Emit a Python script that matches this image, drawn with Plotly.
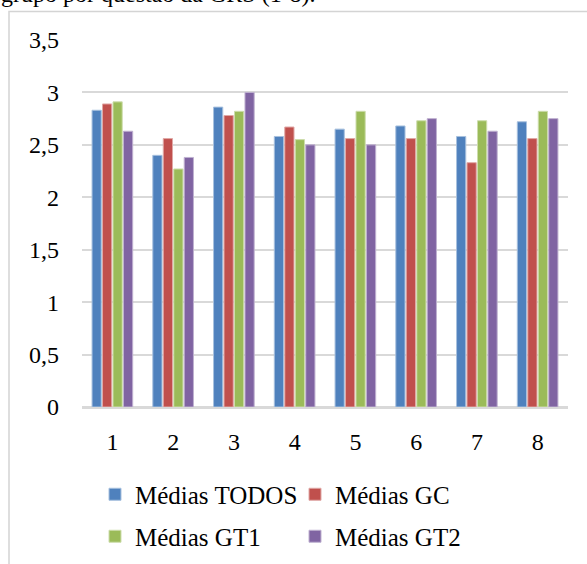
import plotly.graph_objects as go

categories = ["1", "2", "3", "4", "5", "6", "7", "8"]
medias_todos = [2.83, 2.40, 2.86, 2.58, 2.65, 2.68, 2.58, 2.72]
medias_gc = [2.89, 2.56, 2.78, 2.67, 2.56, 2.56, 2.33, 2.56]
medias_gt1 = [2.91, 2.27, 2.82, 2.55, 2.82, 2.73, 2.73, 2.82]
medias_gt2 = [2.63, 2.38, 3.00, 2.50, 2.50, 2.75, 2.63, 2.75]
y_tick_vals = [0, 0.5, 1, 1.5, 2, 2.5, 3, 3.5]

series = [
    ("Médias TODOS", medias_todos, "#4F81BD", "#A7C0DE", "legend"),
    ("Médias GC", medias_gc, "#C0504D", "#E0A8A6", "legend"),
    ("Médias GT1", medias_gt1, "#9BBB59", "#CDDDAC", "legend2"),
    ("Médias GT2", medias_gt2, "#8064A2", "#BFB1D0", "legend2"),
]

FONT = "Liberation Serif, Times New Roman, Times, serif"
W, H = 587, 564
ML, MR, MT, MB = 82, 19, 40, 157
PW, PH = W - ML - MR, H - MT - MB

def px_x(p):
    return (p - ML) / PW

def px_y(p):
    return (H - MB - p) / PH

fig = go.Figure()
for name, vals, col, lcol, lg in series:
    fig.add_trace(go.Bar(
        x=categories, y=vals, name=name,
        marker=dict(color=col, line=dict(color=lcol, width=1)),
        legend=lg,
    ))

fig.update_layout(
    width=W, height=H,
    margin=dict(l=ML, r=MR, t=MT, b=MB, autoexpand=False),
    paper_bgcolor="white", plot_bgcolor="white",
    separators=", ",
    font=dict(family=FONT, size=24, color="black"),
    barmode="group", bargap=0.31, bargroupgap=0.12,
    showlegend=True,
    legend=dict(orientation="h", x=px_x(95), xanchor="left", y=px_y(494.5), yanchor="middle",
                entrywidth=155, font=dict(family=FONT, size=25), bgcolor="rgba(0,0,0,0)",
                traceorder="normal"),
    legend2=dict(orientation="h", x=px_x(95), xanchor="left", y=px_y(536.5), yanchor="middle",
                 entrywidth=155, font=dict(family=FONT, size=25), bgcolor="rgba(0,0,0,0)",
                 traceorder="normal"),
    xaxis=dict(showgrid=False, showline=True, linecolor="#D9D9D9", linewidth=2,
               ticks="", tickfont=dict(family=FONT, size=24), ticklabelstandoff=12),
    yaxis=dict(range=[0, 3.5], tickvals=y_tick_vals, showgrid=True, gridcolor="#D9D9D9", gridwidth=2,
               zeroline=True, zerolinecolor="#D9D9D9", zerolinewidth=2, showline=False,
               ticks="", tickfont=dict(family=FONT, size=24), ticklabelstandoff=22),
    shapes=[dict(type="rect", xref="paper", yref="paper",
                 x0=px_x(9), x1=px_x(620), y0=px_y(620), y1=px_y(11.5),
                 line=dict(color="#D4D4D4", width=1.5), fillcolor="rgba(0,0,0,0)", layer="below")],
    annotations=[dict(text="grupo por questão da GRS (1-8).", xref="paper", yref="paper",
                      x=px_x(-1), y=px_y(-6), xanchor="left", yanchor="middle", showarrow=False,
                      font=dict(family=FONT, size=24, color="black"))],
)

fig.write_html("out.html", config={"displayModeBar": False},
               post_script="document.body.style.margin='0';")
